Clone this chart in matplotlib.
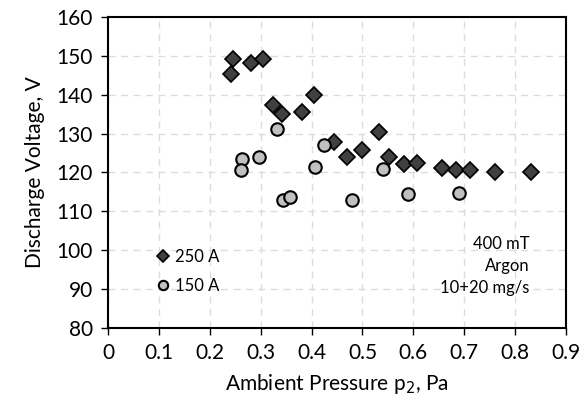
import matplotlib.pyplot as plt

plt.rcParams['font.family'] = ['Lato', 'DejaVu Sans']

# 250 A data
p_250 = [0.246, 0.242, 0.280, 0.305, 0.325, 0.341, 0.382, 0.404, 0.445, 0.470,
         0.500, 0.533, 0.553, 0.581, 0.608, 0.657, 0.683, 0.711, 0.760, 0.831]
v_250 = [149.2, 145.3, 148.2, 149.2, 137.4, 135.1, 135.6, 140.0, 127.9, 124.0,
         125.8, 130.4, 124.0, 122.2, 122.5, 121.2, 120.7, 120.7, 120.2, 120.2]

# 150 A data
p_150 = [0.264, 0.262, 0.297, 0.333, 0.344, 0.357, 0.406, 0.425, 0.480, 0.541,
         0.590, 0.689]
v_150 = [123.5, 120.7, 124.0, 131.2, 113.0, 113.8, 121.4, 127.1, 113.0, 120.9,
         114.5, 114.8]

fig = plt.figure(figsize=(5.88, 4.11), dpi=100)
ax = fig.add_axes([0.1837, 0.202, 0.7789, 0.7566])

ax.plot(p_250, v_250, 'D', color='#404040', mec='black', mew=1.2, ms=8.5, label='250 A', zorder=3)
ax.plot(p_150, v_150, 'o', color='#c0c0c0', mec='black', mew=1.5, ms=9, label='150 A', zorder=3)

ax.set_xlim(0, 0.9)
ax.set_ylim(80, 160)
ax.set_xticks([0, 0.1, 0.2, 0.3, 0.4, 0.5, 0.6, 0.7, 0.8, 0.9])
ax.set_xticklabels(['0', '0.1', '0.2', '0.3', '0.4', '0.5', '0.6', '0.7', '0.8', '0.9'])
ax.set_yticks(range(80, 161, 10))
ax.grid(True, color='#dcdcdc', linestyle=(0, (5, 4)), linewidth=1)
ax.set_axisbelow(True)
for s in ax.spines.values():
    s.set_linewidth(1.5)
ax.tick_params(direction='out', length=5, width=1, labelsize=15, pad=6)

ax.set_xlabel('Ambient Pressure p$_2$, Pa', fontsize=15, labelpad=6)
ax.set_ylabel('Discharge Voltage, V', fontsize=15, labelpad=8)

ax.legend(loc='lower left', bbox_to_anchor=(0.06, 0.06), frameon=False, fontsize=12,
          handletextpad=0.0, labelspacing=0.8, handlelength=1.5, markerscale=0.75)

ax.text(0.92, 0.295, '400 mT\nArgon\n10+20 mg/s', transform=ax.transAxes, ha='right', va='top',
        fontsize=12, linespacing=1.45)

plt.savefig('out.png', dpi=100)
